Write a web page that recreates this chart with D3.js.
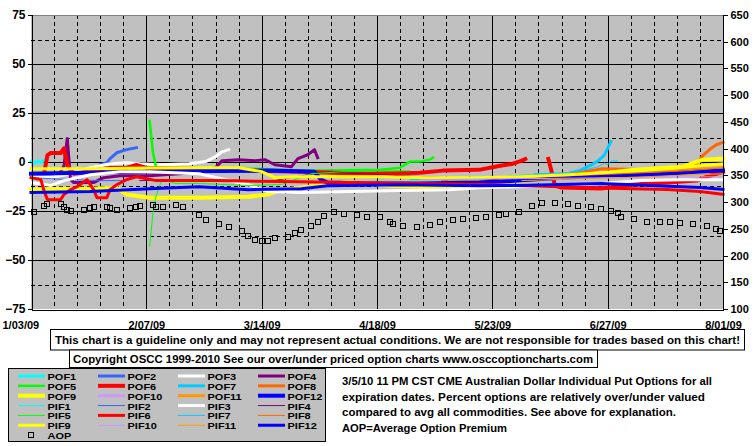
<!DOCTYPE html>
<html><head><meta charset="utf-8">
<script src="https://cdn.jsdelivr.net/npm/d3@7"></script>
<style>
body{margin:0;background:#fff;}
svg text{font-family:"Liberation Sans",Arial,sans-serif;font-weight:bold;fill:#000;}
</style></head><body>
<svg id="c" width="755" height="446"></svg>
<script>
// ---------- DATA ----------
const xTickLabels = ["1/03/09","2/07/09","3/14/09","4/18/09","5/23/09","6/27/09","8/01/09"];
const xTickDates  = ["1/3","2/7","3/14","4/18","5/23","6/27","8/1"];
const leftTicks  = [75,50,25,0,-25,-50,-75];
const rightTicks = [650,600,550,500,450,400,350,300,250,200,150,100];

const seriesNames  = ["POF1","POF2","POF3","POF4","POF5","POF6","POF7","POF8","POF9","POF10","POF11","POF12",
                      "PIF1","PIF2","PIF3","PIF4","PIF5","PIF6","PIF7","PIF8","PIF9","PIF10","PIF11","PIF12"];
const seriesColors = ["#00FFFF","#3366FF","#FFFFFF","#800080","#00FF00","#FF0000","#00CCFF","#FF6600","#FFFF00","#CC99FF","#FF9900","#0000FF",
                      "#00FFFF","#3366FF","#FFFFFF","#800080","#00FF00","#FF0000","#00CCFF","#FF6600","#FFFF00","#CC99FF","#FF9900","#0000FF"];
const seriesWidths = [3,3,3,3,2.5,4,3,3,4,3,3,4,
                      1,1,3,1,1,3,1,1,3,1,1,3];

const POF1 = [["1/3",0],["1/4",-0.5],["1/5",0.5],["1/6",-0.5],["1/7",1]];
const POF2 = [["1/24",-1.4],["1/26",-0.4],["1/27",1.7],["1/29",4.7],["1/31",5.8],["2/1",6.3],["2/4",7.3]];
const POF3 = [["1/3",-7.5],["1/9",-8],["1/15",-6],["1/21",-2.9],["1/27",-0.9],["2/1",-0.4],["2/5",-0.9],["2/11",-1.4],
              ["2/20",-0.9],["2/25",0.2],["2/28",2.7],["3/2",5.2],["3/4",6.3]];
const POF4 = [["1/12",-5],["1/13",-2],["1/14",12],["1/15",-9],["1/16",-10.5],["1/22",-10.5],["1/25",-8],["1/30",-7],
              ["2/8",-7],["2/17",-6],["2/25",-5],["2/28",-2.9],["3/2",0.7],["3/7",1.2],["3/12",0.7],["3/15",1.2],
              ["3/18",-1.4],["3/23",-2.4],["3/25",1.7],["3/28",3.7],["3/30",6.3],["3/31",2.2]];
const POF5 = [["2/8",21],["2/9",5],["2/10",-3],["2/11",-5],["2/13",-3.5],["2/23",-3],["3/10",-3.4],["3/26",-4.4],
              ["4/3",-4.4],["4/19",-3.9],["4/25",-2.9],["4/28",0.2],["5/1",0.2],["5/4",1.2],["5/5",2.2]];
const POF6 = [["1/7",-5.5],["1/8",3.5],["1/9",4.6],["1/12",4.6],["1/13",7],["1/14",-1.5],["1/16",-6],["1/20",-5],
              ["1/23",-4],["1/27",-3],["2/1",-3],["2/4",-1.5],["2/7",-3],["2/20",-3.4],["3/10",-4.4],["3/26",-5],
              ["4/15",-6],["5/1",-5.5],["5/8",-4.4],["5/19",-4],["5/25",-2],["5/29",-1],["6/1",0.7],["6/2",1.5],
              ["6/8",null],
              ["6/9",1.5],["6/10",-5],["6/11",-12],["6/13",-13],["6/25",-13.5],["7/5",-11.5],["7/15",-10.5],
              ["7/24",-9.5],["7/28",-7],["8/1",-5]];
const POF7 = [["6/5",-6.5],["6/15",-6],["6/19",-4],["6/22",-1.5],["6/24",0.5],["6/26",3.5],["6/27",7],["6/28",10.5]];
const POF8 = [["5/8",-9],["5/19",-9],["5/31",-8],["6/15",-6.5],["6/25",-3.5],["7/10",-4],["7/20",-4.5],["7/22",-4],
              ["7/24",-1],["7/26",3.5],["7/28",6.5],["7/30",8.8],["8/1",10]];
const POF9 = [["1/3",-14.1],["1/12",-13.6],["1/21",-13.6],["1/29",-13.1],["2/1",-16.6],["2/8",-18.2],["2/23",-18.2],
              ["3/10",-17.7],["3/16",-16.6],["3/20",-14.1],["3/26",-13.1],["4/2",-11.6],["4/8",-10.5],["4/15",-11],
              ["4/22",-12.1],["5/1",-12.6],["5/14",-12.1],["5/25",-10.5],["6/5",-9],["6/15",-7.5],["6/25",-6],
              ["7/5",-3.9],["7/15",-2.9],["7/20",-2.4],["7/23",-0.4],["7/26",1.2],["8/1",1.7]];
const POF10 = [["6/20",-7],["7/1",-6.5],["7/10",-6],["7/20",-5.5],["8/1",-4.5]];
const POF11 = [["5/10",-9],["5/19",-9],["6/1",-8],["6/20",-6.5],["7/5",-5.5],["7/20",-4],["8/1",-3]];
const POF12 = [["1/3",-6],["2/8",-4.9],["3/16",-4.4],["3/30",-5],["4/1",-9],["4/3",-10.5],["4/15",-11],["5/1",-11],
               ["5/19",-10.5],["5/31",-9.5],["6/13",-8],["6/25",-7],["7/10",-6.5],["7/25",-4.9],["8/1",-4.4]];

const PIF1 = [["1/3",-3],["1/10",-3.5]];
const PIF2 = [["1/3",-8],["1/15",-9],["1/24",-9.5],["2/1",-9.5],["2/5",-7]];
const PIF3 = [["1/3",-10.5],["1/9",-12],["1/13",-9.5],["1/21",-6.5],["1/30",-5],["2/8",-5],["2/23",-6],["3/10",-11.6],
              ["3/16",-15.1],["3/26",-15.6],["4/10",-15.1],["4/25",-14.6],["5/10",-14.1],["5/19",-13.1],["5/31",-12.6],
              ["6/13",-12.1],["6/25",-11],["7/7",-9.5],["7/19",-9],["8/1",-9]];
const PIF4 = [["2/5",-9.5],["2/23",-9],["3/16",-10],["3/26",-7],["4/3",-5],["4/25",-7],["5/10",-8],["5/25",-9]];
const PIF5 = [["2/8",-43],["2/9",-26],["2/10",-17],["2/11",-12],["2/12",-9],["2/16",-11],["2/23",-11],["3/10",-12],
              ["3/20",-11.5],["3/29",-6],["4/7",-5],["4/19",-4.5],["4/28",-4.5]];
const PIF6 = [["1/3",-8],["1/6",-9],["1/7",-15],["1/8",-19.2],["1/12",-19.2],["1/13",-16.6],["1/15",-14.1],["1/17",-12.6],
              ["1/20",-9],["1/22",-14.1],["1/23",-18.2],["1/26",-18.2],["1/27",-14.1],["1/29",-11.6],["2/1",-9],
              ["2/4",-7.5],["2/10",-9.5],["3/1",-9.5],["3/20",-10],["4/10",-10.5],["5/1",-11],["5/20",-11.5],
              ["6/10",-12.5],["7/1",-13.5],["7/15",-14],["7/25",-15],["8/1",-16.5]];
const PIF7 = [["4/28",-9],["5/12",-9],["5/19",-9],["5/29",-7],["6/5",-6.5],["6/15",-5.5],["6/20",-4],["6/24",-2.5],
              ["6/26",-0.5],["6/27",-1.5],["6/28",0.5],["6/30",0.5]];
const PIF8 = [["6/1",-8],["7/1",-6],["7/21",-4.5],["8/1",-3]];
const PIF9 = [["1/3",-3.4],["1/21",-3.4],["2/8",-3],["2/23",-2.9],["3/7",-2.9],["3/14",-4.9],["3/18",-8],["3/24",-7.5],
              ["4/5",-7.5],["4/19",-7.5],["5/4",-8],["5/19",-8],["6/1",-7.5],["6/15",-6.5],["7/1",-5],["7/15",-3.5],
              ["7/25",-1.9],["8/1",-1]];
const PIF10 = [["5/1",-9],["6/1",-8.5],["7/1",-8],["8/1",-7.5]];
const PIF11 = [["6/1",-9.5],["7/1",-8],["8/1",-6]];
const PIF12 = [["1/3",-15.6],["1/21",-15.1],["2/8",-13.6],["2/23",-12.6],["3/10",-14.1],["3/26",-13.6],["4/3",-12.1],
               ["4/25",-11.6],["5/19",-12.1],["5/31",-12],["6/13",-11.5],["6/25",-11],["7/10",-12],["7/25",-13],["8/1",-14]];

const AOP = [["1/4",282],["1/7",292.7],["1/8",296.5],["1/12",296.5],["1/13",290.3],["1/14",285],["1/15",283.5],["1/19",285],
  ["1/21",289],["1/22",291.5],["1/26",291.5],["1/27",289],["1/29",285],["2/2",289],["2/4",291.5],["2/5",292.7],["2/9",294.6],
  ["2/10",291.5],["2/12",291.5],["2/16",294.6],["2/18",290.3],["2/23",276],["2/25",266.5],["3/1",259],["3/4",253],["3/8",246],
  ["3/10",236.6],["3/12",229],["3/14",228],["3/16",227],["3/18",232],["3/22",235],["3/24",241.6],["3/26",247.8],["3/29",255.3],
  ["3/31",263.3],["4/2",274],["4/5",282],["4/8",277.8],["4/12",275.9],["4/15",272.7],["4/19",271.6],["4/22",263.3],["4/23",259],
  ["4/26",255.3],["4/30",254],["5/4",257.2],["5/7",263.3],["5/11",266.5],["5/14",268.4],["5/18",269.7],["5/21",271.6],
  ["5/25",275.9],["5/27",277],["5/31",282],["6/4",292.7],["6/7",299],["6/11",299],["6/15",296.5],["6/18",292.7],["6/22",291.5],
  ["6/25",286.5],["6/28",283.5],["6/30",279],["7/1",271.6],["7/5",267.8],["7/9",262.2],["7/13",263.3],["7/16",263.3],
  ["7/19",261.5],["7/23",259],["7/27",255.3],["7/30",249.1],["7/31",246]];

const disclaimer = "This chart is a guideline only and may not represent actual conditions. We are not responsible for trades based on this chart!";
const copyright = "Copyright OSCC 1999-2010 See our over/under priced option charts www.osccoptioncharts.com";
const noteLines = ["3/5/10 11 PM CST CME Australian Dollar Individual Put Options for all",
                   "expiration dates. Percent options are relatively over/under valued",
                   "compared to avg all commodities. See above for explanation.",
                   "AOP=Average Option Premium"];

// ---------- CHART ----------
const seriesData = [POF1,POF2,POF3,POF4,POF5,POF6,POF7,POF8,POF9,POF10,POF11,POF12,
                    PIF1,PIF2,PIF3,PIF4,PIF5,PIF6,PIF7,PIF8,PIF9,PIF10,PIF11,PIF12];
const pd = s => { const [m,d] = s.split("/").map(Number); return new Date(2009, m-1, d); };

const L = 31, R = 723, T = 15, B = 309;
const svg = d3.select("#c");
const x = d3.scaleTime().domain([pd("1/3"), pd("8/1")]).range([L, R]);
const yL = d3.scaleLinear().domain([-75, 75]).range([B, T]);
const yR = d3.scaleLinear().domain([100, 650]).range([B, T]);
const px = v => Math.round(v) + 0.5;

svg.append("rect").attr("x", L).attr("y", T).attr("width", R - L).attr("height", B - T).attr("fill", "#C0C0C0");

// vertical grid (weekly, solid every 5 weeks)
const grid = svg.append("g").attr("shape-rendering", "crispEdges");
d3.range(1, 30).forEach(k => {
  const d = d3.timeDay.offset(pd("1/3"), 7 * k);
  grid.append("line").attr("x1", px(x(d))).attr("x2", px(x(d))).attr("y1", T).attr("y2", B)
    .attr("stroke", "#000").attr("stroke-width", 1)
    .attr("stroke-dasharray", k % 5 === 0 ? null : "4,3");
});
// horizontal grid
d3.range(-62.5, 75, 12.5).forEach(v => {
  const major = Math.abs(v % 25) < 1e-9;
  grid.append("line").attr("x1", L).attr("x2", R).attr("y1", px(yL(v))).attr("y2", px(yL(v)))
    .attr("stroke", "#000").attr("stroke-width", 1)
    .attr("stroke-dasharray", major ? null : "4,3");
});
grid.append("line").attr("x1", L).attr("x2", R).attr("y1", px(yL(75))).attr("y2", px(yL(75))).attr("stroke", "#808080");

// series lines
const line = d3.line().defined(d => d[1] !== null).x(d => x(pd(d[0]))).y(d => yL(d[1]));
const lg = svg.append("g");
seriesData.forEach((s, i) => {
  lg.append("path").datum(s).attr("d", line).attr("fill", "none")
    .attr("stroke", seriesColors[i]).attr("stroke-width", seriesWidths[i])
    .attr("stroke-linejoin", "round").attr("stroke-linecap", "square");
});
// AOP markers
svg.append("g").selectAll("rect").data(AOP).join("rect")
  .attr("x", d => Math.round(x(pd(d[0]))) - 2.5).attr("y", d => Math.round(yR(d[1])) - 2.5)
  .attr("width", 5).attr("height", 5).attr("fill", "none").attr("stroke", "#000").attr("stroke-width", 1)
  .attr("shape-rendering", "crispEdges");

// axes
const axL = svg.append("g").attr("transform", `translate(${L + 0.5},0)`)
  .call(d3.axisLeft(yL).tickValues(leftTicks).tickSize(4).tickPadding(2).tickFormat(d3.format("d")));
const axR = svg.append("g").attr("transform", `translate(${R - 0.5},0)`)
  .call(d3.axisRight(yR).tickValues(rightTicks).tickSize(5).tickPadding(3));
const axB = svg.append("g").attr("transform", `translate(0,${B + 0.5})`)
  .call(d3.axisBottom(x).tickValues(xTickDates.map(pd)).tickSize(0).tickPadding(12)
        .tickFormat((d, i) => xTickLabels[i]));
[axL, axR, axB].forEach(a => {
  a.attr("shape-rendering", "crispEdges");
  a.select(".domain").attr("stroke", "#000");
  a.selectAll(".tick line").attr("stroke", "#000");
  a.selectAll("text").attr("font-size", 11).attr("font-family", "Liberation Sans, Arial, sans-serif").attr("font-weight", "bold");
});
axL.selectAll("text").attr("font-size", 12);
axB.selectAll(".tick text").filter((d, i) => i === 0).attr("text-anchor", "start").attr("x", 2 - L);

// disclaimer boxes
svg.append("rect").attr("x", 50.5).attr("y", 329.5).attr("width", 694).attr("height", 20.5).attr("fill", "#fff").attr("stroke", "#000");
svg.append("text").attr("x", 55).attr("y", 344).attr("font-size", 11).attr("textLength", 685)
  .attr("lengthAdjust", "spacingAndGlyphs").text(disclaimer);
svg.append("rect").attr("x", 69.5).attr("y", 350).attr("width", 528).attr("height", 17.5).attr("fill", "#fff").attr("stroke", "#000");
svg.append("text").attr("x", 73).attr("y", 362.5).attr("font-size", 11).attr("textLength", 520)
  .attr("lengthAdjust", "spacingAndGlyphs").text(copyright);

// legend
const leg = svg.append("g");
leg.append("rect").attr("x", 8.5).attr("y", 368.5).attr("width", 317).attr("height", 73).attr("fill", "#C0C0C0").attr("stroke", "#000");
const legText = (t, tx, ty) => leg.append("text")
  .attr("transform", `translate(${tx},${ty}) scale(1,0.86)`).attr("font-size", 11).text(t);
seriesNames.forEach((n, i) => {
  const col = i % 4, row = Math.floor(i / 4);
  const x0 = 18 + col * 80, yc = 376 + row * 9.85;
  leg.append("line").attr("x1", x0).attr("x2", x0 + 27).attr("y1", yc).attr("y2", yc)
    .attr("stroke", seriesColors[i]).attr("stroke-width", seriesWidths[i]);
  legText(n, x0 + 29.5, yc + 4);
});
leg.append("rect").attr("x", 28.5).attr("y", 432.5).attr("width", 5).attr("height", 5).attr("fill", "none").attr("stroke", "#000");
legText("AOP", 47.5, 376 + 6 * 9.85 + 4);

// note text
const noteWidths = [370, 363, 334, 165];
noteLines.forEach((t, i) => {
  svg.append("text").attr("x", 342).attr("y", 385 + i * 15.7).attr("font-size", 11)
    .attr("textLength", noteWidths[i]).attr("lengthAdjust", "spacingAndGlyphs").text(t);
});
</script>
</body></html>
